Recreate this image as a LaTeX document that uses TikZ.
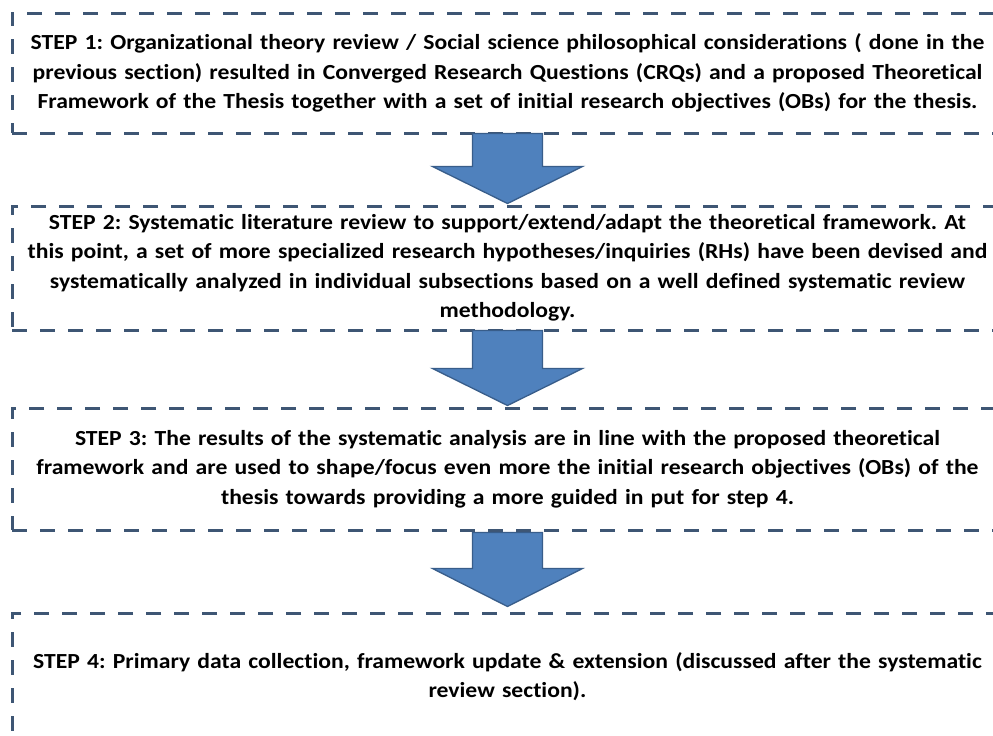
\documentclass[tikz,border=0pt]{standalone}
\usepackage{fontspec}
\setmainfont{Carlito}[FakeStretch=1.1, Ligatures=NoCommon]
\usetikzlibrary{calc}
\definecolor{borderblue}{RGB}{62,86,116}
\definecolor{arrowfill}{RGB}{79,129,189}
\definecolor{arrowline}{RGB}{56,93,138}
\tikzset{
  stepbox/.style={draw=borderblue, line width=3pt, dash pattern=on 15pt off 13pt,
    rectangle, minimum width=991pt, inner sep=0pt,
    text width=985pt, align=center,
    font=\fontsize{21.5}{29.5}\selectfont\bfseries\frenchspacing},
  blockarrow/.style={fill=arrowfill, draw=arrowline, line width=1.3pt, line join=miter}
}
\begin{document}
\begin{tikzpicture}[x=1pt, y=-1pt]
  \fill[white] (0,0) rectangle (993,736);
  \useasboundingbox (0,0) rectangle (993,736);
  \clip (0,0) rectangle (993,736);

  % the four steps
  \node[stepbox, minimum height=120pt] (b1) at (507.5,73) {STEP 1: Organizational theory review / Social science philosophical considerations ( done in the\\
    previous section) resulted in Converged Research Questions (CRQs) and a proposed Theoretical\\
    Framework of the Thesis together with a set of initial research objectives (OBs) for the thesis.};
  \node[stepbox, minimum height=124pt] (b2) at (507.5,268) {STEP 2: Systematic literature review to support/extend/adapt the theoretical framework. At\\
    this point, a set of more specialized research hypotheses/inquiries (RHs) have been devised and\\
    systematically analyzed in individual subsections based on a well defined systematic review\\
    methodology.};
  \node[stepbox, minimum height=122pt] (b3) at (507.5,469) {STEP 3: The results of the systematic analysis are in line with the proposed theoretical\\
    framework and are used to shape/focus even more the initial research objectives (OBs) of the\\
    thesis towards providing a more guided in put for step 4.};
  \node[stepbox, minimum height=127pt] (b4) at (507.5,676.5) {STEP 4: Primary data collection, framework update \& extension (discussed after the systematic\\
    review section).};

  % block arrows between consecutive steps
  \foreach \a/\b in {b1/b2, b2/b3} {
    \draw[blockarrow] ($(\a.south)+(-35,-1)$) -- ($(\b.north)+(-35,-38)$) -- ($(\b.north)+(-75,-38)$)
      -- ($(\b.north)+(0,-1)$) -- ($(\b.north)+(75,-38)$) -- ($(\b.north)+(35,-38)$)
      -- ($(\a.south)+(35,-1)$) -- cycle;
  }
  \draw[blockarrow] ($(b3.south)+(-35,1)$) -- ($(b4.north)+(-35,-43)$) -- ($(b4.north)+(-75,-43)$)
    -- ($(b4.north)+(0,-5)$) -- ($(b4.north)+(75,-43)$) -- ($(b4.north)+(35,-43)$)
    -- ($(b3.south)+(35,1)$) -- cycle;
\end{tikzpicture}
\end{document}
